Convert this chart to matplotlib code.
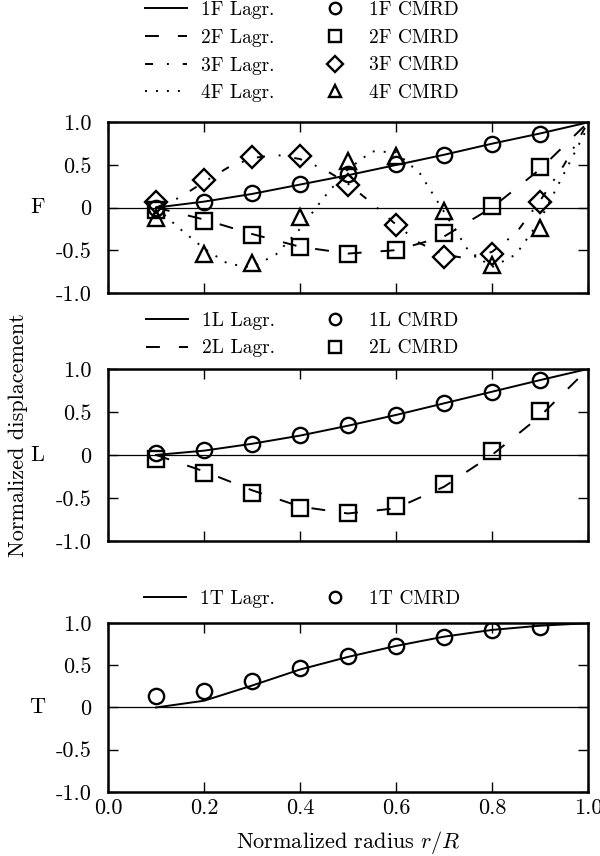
import numpy as np
import matplotlib.pyplot as plt

plt.rcParams['font.family'] = ['cmr10', 'DejaVu Serif']
plt.rcParams['mathtext.fontset'] = 'cm'
plt.rcParams['axes.formatter.use_mathtext'] = True
plt.rcParams['font.size'] = 16
plt.rcParams['lines.scale_dashes'] = False

r = [0.1, 0.2, 0.3, 0.4, 0.5, 0.6, 0.7, 0.8, 0.9]
r_lagr = [0.1, 0.2, 0.3, 0.4, 0.5, 0.6, 0.7, 0.8, 0.9, 1.0]
r_fine = [0.1, 0.15, 0.2, 0.25, 0.3, 0.35, 0.4, 0.45, 0.5, 0.55,
          0.6, 0.65, 0.7, 0.75, 0.8, 0.85, 0.9, 0.95, 1.0]

# flap modes
F1_lagr = [0.0, 0.07, 0.16, 0.27, 0.38, 0.50, 0.62, 0.75, 0.87, 1.0]
F2_lagr = [0.0, -0.14, -0.31, -0.46, -0.54, -0.50, -0.34, 0.0, 0.45, 1.0]
F3_lagr = [0.0, 0.12, 0.30, 0.47, 0.58, 0.62, 0.57, 0.45, 0.28, 0.05,
           -0.20, -0.42, -0.55, -0.60, -0.52, -0.30, 0.08, 0.50, 1.0]
F4_lagr = [0.0, -0.25, -0.48, -0.66, -0.70, -0.55, -0.25, 0.12, 0.45, 0.66,
           0.65, 0.40, -0.05, -0.50, -0.70, -0.55, -0.15, 0.40, 0.95]
F1_cmrd = [0.0, 0.07, 0.17, 0.28, 0.40, 0.51, 0.62, 0.745, 0.865]
F2_cmrd = [-0.03, -0.155, -0.32, -0.46, -0.545, -0.50, -0.30, 0.02, 0.48]
F3_cmrd = [0.07, 0.32, 0.59, 0.60, 0.27, -0.20, -0.585, -0.545, 0.06]
F4_cmrd = [-0.12, -0.545, -0.655, -0.11, 0.545, 0.60, -0.04, -0.67, -0.24]

# lag modes
L1_lagr = [0.0, 0.05, 0.13, 0.225, 0.34, 0.465, 0.60, 0.735, 0.87, 1.0]
L2_lagr = [0.0, -0.19, -0.41, -0.60, -0.68, -0.62, -0.37, 0.0, 0.45, 1.0]
L1_cmrd = [0.02, 0.06, 0.13, 0.23, 0.345, 0.47, 0.60, 0.735, 0.87]
L2_cmrd = [-0.045, -0.21, -0.44, -0.615, -0.68, -0.59, -0.335, 0.05, 0.51]

# torsion mode
T1_lagr = [0.0, 0.08, 0.26, 0.45, 0.60, 0.73, 0.84, 0.92, 0.97, 1.0]
T1_cmrd = [0.14, 0.20, 0.32, 0.47, 0.605, 0.735, 0.84, 0.92, 0.96]

yticks = [-1.0, -0.5, 0.0, 0.5, 1.0]
ytick_labels = ['-1.0', '-0.5', '0', '0.5', '1.0']
xticks = [0.0, 0.2, 0.4, 0.6, 0.8, 1.0]
xtick_labels = ['0.0', '0.2', '0.4', '0.6', '0.8', '1.0']

solid = '-'
dashed = (0, (10, 13.7))
dashdot = (0, (5.8, 10, 1.4, 10))
dotted = (0, (1.4, 6.5))

lw = 1.4
mk = dict(ls='none', ms=11, mfc='none', mec='k', mew=1.7)

fig = plt.figure(figsize=(6, 8.56), dpi=100)
ax1 = fig.add_axes([0.18, 0.658, 0.80, 0.199])
ax2 = fig.add_axes([0.18, 0.368, 0.80, 0.201])
ax3 = fig.add_axes([0.18, 0.075, 0.80, 0.197])

ax1.plot(r_lagr, F1_lagr, 'k', ls=solid, lw=lw, label='1F Lagr.')
ax1.plot(r_lagr, F2_lagr, 'k', ls=dashed, lw=lw, label='2F Lagr.')
ax1.plot(r_fine, F3_lagr, 'k', ls=dashdot, lw=lw, label='3F Lagr.')
ax1.plot(r_fine, F4_lagr, 'k', ls=dotted, lw=lw, label='4F Lagr.')
ax1.plot(r, F1_cmrd, marker='o', label='1F CMRD', **mk)
ax1.plot(r, F2_cmrd, marker='s', label='2F CMRD', **mk)
ax1.plot(r, F3_cmrd, marker='D', label='3F CMRD', **mk)
ax1.plot(r, F4_cmrd, marker='^', label='4F CMRD', **mk)
ax1.set_ylabel('F', rotation=0, labelpad=13, va='center')

ax2.plot(r_lagr, L1_lagr, 'k', ls=solid, lw=lw, label='1L Lagr.')
ax2.plot(r_lagr, L2_lagr, 'k', ls=dashed, lw=lw, label='2L Lagr.')
ax2.plot(r, L1_cmrd, marker='o', label='1L CMRD', **mk)
ax2.plot(r, L2_cmrd, marker='s', label='2L CMRD', **mk)
ax2.set_ylabel('L', rotation=0, labelpad=13, va='center')

ax3.plot(r_lagr, T1_lagr, 'k', ls=solid, lw=lw, label='1T Lagr.')
ax3.plot(r, T1_cmrd, marker='o', label='1T CMRD', **mk)
ax3.set_ylabel('T', rotation=0, labelpad=13, va='center')
ax3.set_xlabel('Normalized radius $r/R$', labelpad=8)

legend_y = {ax1: 1.415, ax2: 1.20, ax3: 1.145}

for ax in (ax1, ax2, ax3):
    ax.axhline(0, color='k', lw=0.9, zorder=1)
    ax.set_xlim(0, 1)
    ax.set_ylim(-1, 1)
    ax.set_yticks(yticks)
    ax.set_yticklabels(ytick_labels)
    ax.set_xticks(xticks)
    ax.tick_params(direction='in', length=7, width=1, top=True, right=True)
    ax.tick_params(axis='y', pad=12)
    ax.tick_params(axis='x', pad=5)
    for s in ax.spines.values():
        s.set_linewidth(1.8)
    ax.legend(ncol=2, loc='center', bbox_to_anchor=(0.405, legend_y[ax]), frameon=False,
              fontsize=14, handlelength=2.15, handletextpad=0.72, columnspacing=2.0,
              labelspacing=0.5, borderaxespad=0.0, numpoints=1, markerscale=0.75)

ax1.set_xticklabels([])
ax2.set_xticklabels([])
ax3.set_xticklabels(xtick_labels)

fig.text(0.03, 0.492, 'Normalized displacement', rotation=90, ha='center', va='center')

fig.savefig('out.png', dpi=100)
